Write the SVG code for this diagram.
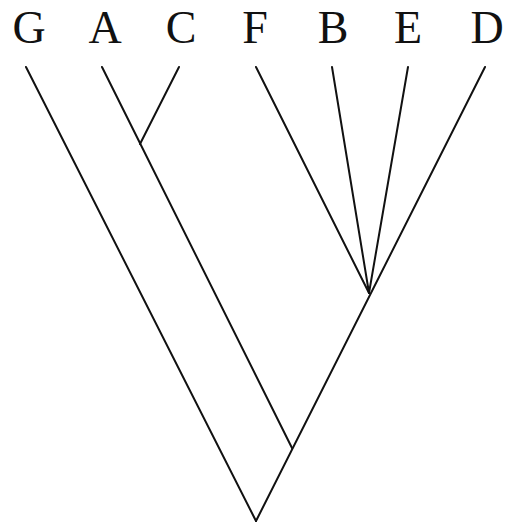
<svg xmlns="http://www.w3.org/2000/svg" width="512" height="522" viewBox="0 0 512 522">
<style>
.lbl{font-family:"Liberation Serif","DejaVu Serif",serif;font-size:46px;fill:#111;text-anchor:middle}
.e{stroke:#111;stroke-width:2;fill:none;stroke-linecap:round}
</style>
<rect width="512" height="522" fill="#fff"/>
<g id="edges">
<line class="e" x1="26" y1="67" x2="256" y2="521"/>
<line class="e" x1="102" y1="67" x2="292" y2="448"/>
<line class="e" x1="179" y1="67" x2="140" y2="144"/>
<line class="e" x1="256" y1="67" x2="369" y2="293"/>
<line class="e" x1="332" y1="67" x2="369" y2="293"/>
<line class="e" x1="408" y1="67" x2="369" y2="293"/>
<line class="e" x1="485" y1="67" x2="256" y2="521"/>
</g>
<g id="G"><text class="lbl" x="29" y="43">G</text></g>
<g id="A"><text class="lbl" x="105" y="43">A</text></g>
<g id="C"><text class="lbl" x="181" y="43">C</text></g>
<g id="F"><text class="lbl" x="255" y="43">F</text></g>
<g id="B"><text class="lbl" x="333" y="43">B</text></g>
<g id="E"><text class="lbl" x="408" y="43">E</text></g>
<g id="D"><text class="lbl" x="487" y="43">D</text></g>
</svg>
